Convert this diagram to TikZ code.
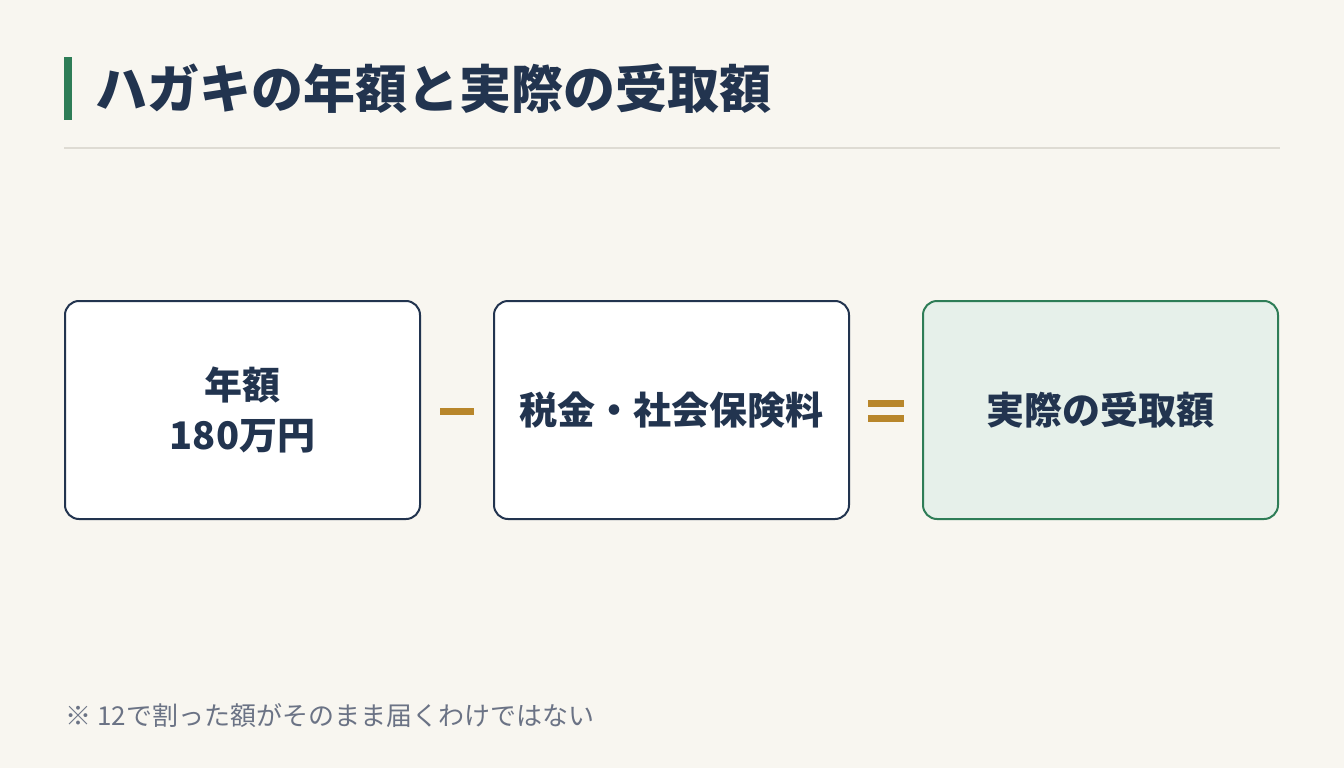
\documentclass[tikz,border=0pt]{standalone}
\usepackage{fontspec}
\setmainfont{Noto Sans CJK JP}
\usetikzlibrary{positioning}
\definecolor{bgcream}{HTML}{F8F6F0}
\definecolor{navy}{HTML}{22344F}
\definecolor{accgreen}{HTML}{2E7D57}
\definecolor{lightgreen}{HTML}{E6F0EA}
\definecolor{gold}{HTML}{B8862B}
\definecolor{rulegray}{HTML}{DEDBD3}
\definecolor{notegray}{HTML}{6B7385}
\tikzset{
    mybox/.style={rectangle,rounded corners=14pt,draw=navy,fill=white,line width=2pt,minimum width=355pt,minimum height=218pt,text centered,text=navy,font=\fontsize{38}{50}\selectfont\bfseries,align=center},
    myresult/.style={mybox,draw=accgreen,fill=lightgreen},
    myop/.style={fill=gold,draw=none}
}
\begin{document}
\begin{tikzpicture}[x=1pt,y=-1pt]
    \fill[bgcream] (0,0) rectangle (1344,768);
    \useasboundingbox (0,0) rectangle (1344,768);
    % title
    \fill[accgreen] (64,57) rectangle (72,120);
    \node[anchor=west,text=navy,font=\fontsize{52}{60}\selectfont\bfseries] (title) at (92,89) {ハガキの年額と実際の受取額};
    \draw[rulegray,line width=2pt] (64,148) -- (1280,148);
    % boxes
    \node[mybox] (annual) at (242.5,410) {年額\\180万円};
    \node[mybox] (deduct) at (671.5,410) {税金・社会保険料};
    \node[myresult] (actual) at (1100.5,410) {実際の受取額};
    % operators
    \fill[myop] (440,408) rectangle (474,415);
    \fill[myop] (868,400) rectangle (904,407);
    \fill[myop] (868,415) rectangle (904,422);
    % note
    \node[anchor=west,text=notegray,font=\fontsize{26}{30}\selectfont] (note) at (62,716) {※ 12で割った額がそのまま届くわけではない};
\end{tikzpicture}
\end{document}
